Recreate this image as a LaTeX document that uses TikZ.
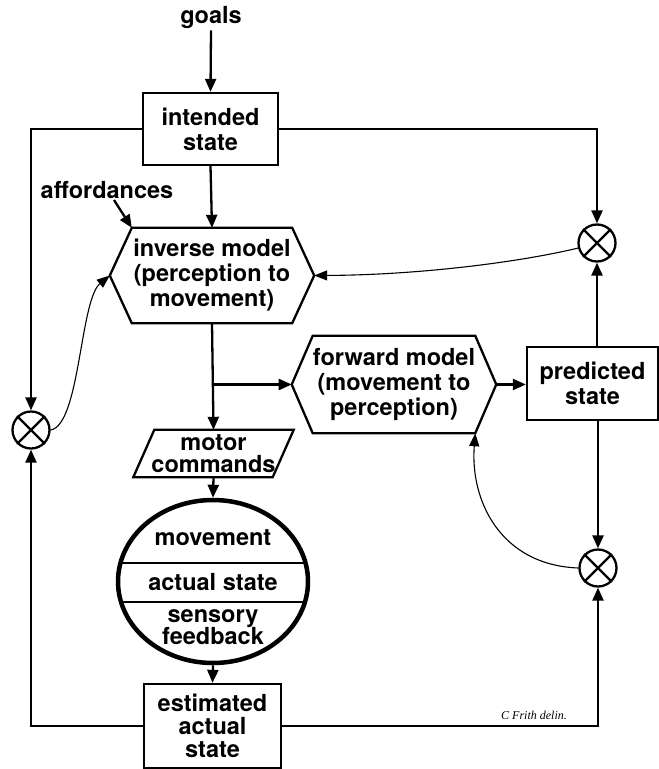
\documentclass[tikz,border=0pt]{standalone}
\usepackage{fontspec}
\setmainfont{TeX Gyre Heros}
\newfontfamily\sigfont{Liberation Serif}
\usetikzlibrary{arrows.meta,calc,shapes.geometric}
\begin{document}
\begin{tikzpicture}[x=1pt,y=-1pt,
  lbl/.style={font=\bfseries\fontsize{23.5}{25}\selectfont, align=center, inner sep=2pt},
  tight/.style={font=\bfseries\fontsize{23.5}{22.5}\selectfont},
  box/.style={lbl, draw, line width=2.3pt, inner sep=0pt},
  shp/.style={line width=2.3pt, line join=miter},
  arr/.style={line width=2.3pt, -{Triangle[length=13pt,width=11pt]}},
  thinarr/.style={line width=1.1pt, -{Triangle[length=13pt,width=10pt]}},
  xc/.style={circle, draw, line width=2.3pt, minimum size=37pt, inner sep=0pt}]
\useasboundingbox (0,0) rectangle (659,769);

% nodes
\node[lbl] (goals) at (211,17) {goals};
\node[box, minimum width=135pt, minimum height=72pt] (int) at (210.5,129) {intended\\state};
\node[lbl] (aff) at (107,190) {affordances};

\node[lbl, inner sep=0pt, minimum width=160pt, minimum height=95pt] (inv) at (212,275.5)
  {inverse model\\(perception to\\movement)};
\coordinate (invL) at ($(inv.west)+(-22,0)$);
\coordinate (invR) at ($(inv.east)+(22,0)$);
\draw[shp] (inv.north west) -- (inv.north east) -- (invR) -- (inv.south east)
  -- (inv.south west) -- (invL) -- cycle;

\node[lbl, inner sep=0pt, minimum width=162pt, minimum height=97pt] (fwd) at (394,384.5)
  {forward model\\(movement to\\perception)};
\coordinate (fwdL) at ($(fwd.west)+(-21,0)$);
\coordinate (fwdR) at ($(fwd.east)+(21,0)$);
\draw[shp] (fwd.north west) -- (fwd.north east) -- (fwdR) -- (fwd.south east)
  -- (fwd.south west) -- (fwdL) -- cycle;

\node[box, minimum width=131pt, minimum height=73pt] (pred) at (592.5,383.5) {predicted\\state};

\node[xc] (cTR) at (597,243) {};
\node[xc] (cL) at (31,430) {};
\node[xc] (cBR) at (598,568) {};
\foreach \c in {cTR,cL,cBR}
  \draw[line width=2.3pt] (\c.north west) -- (\c.south east) (\c.north east) -- (\c.south west);

\node[lbl, tight, inner sep=0pt, minimum width=139pt, minimum height=47pt] (mc) at (213.5,453.5)
  {motor\\commands};
\draw[shp] ($(mc.north west)+(10.5,0)$) -- ($(mc.north east)+(10.5,0)$)
  -- ($(mc.south east)+(-10.5,0)$) -- ($(mc.south west)+(-10.5,0)$) -- cycle;

\node[ellipse, draw, line width=4.5pt, minimum width=190pt, minimum height=163pt, inner sep=0pt] (ell) at (213,581.5) {};
\begin{scope}
  \clip (213,581.5) ellipse [x radius=95, y radius=81.5];
  \draw[line width=2.3pt] (100,563) -- (330,563) (100,602) -- (330,602);
\end{scope}
\node[lbl] (mov) at (213,538) {movement};
\node[lbl] (act) at (213,582) {actual state};
\node[lbl, tight] (sens) at (213,627) {sensory\\feedback};

\node[box, font=\bfseries\fontsize{23.5}{23}\selectfont, minimum width=137pt, minimum height=84pt] (est) at (212.5,726)
  {estimated\\actual\\state};

\node[font=\sigfont\itshape\fontsize{12}{13}\selectfont] (sig) at (534,715) {C Frith delin.};

% connectors
\coordinate (affS) at (114,200);
\draw[arr] (goals.south) -- (int.north);
\draw[arr] (int.south) -- (inv.north);
\draw[arr] (affS) -- (inv.north west);
\draw[arr] (int.west) -| (cL.north);
\draw[arr] (int.east) -| (cTR.north);
\draw[arr] (pred.north -| cTR) -- (cTR.south);
\draw[arr] (pred.south -| cBR) -- (cBR.north);
\draw[arr] (inv.south) -- (mc.north);
\draw[arr] (inv.south |- fwdL) -- (fwdL);
\draw[arr] (fwdR) -- (fwdR -| pred.west);
\draw[arr] (mc.south) -- (ell.north);
\draw[arr] (ell.south) -- (est.north);
\draw[arr] (est.west) -| (cL.south);
\draw[arr] (est.east) -| (cBR.south);

\draw[thinarr] (cTR.195) .. controls (520,262) and (420,275) .. (invR);
\draw[thinarr] (cL.east) .. controls (80,425) and (80,300) .. (invL);
\draw[thinarr] (cBR.west) .. controls (500,565) and (470,500) .. (fwd.south east);
\end{tikzpicture}
\end{document}
